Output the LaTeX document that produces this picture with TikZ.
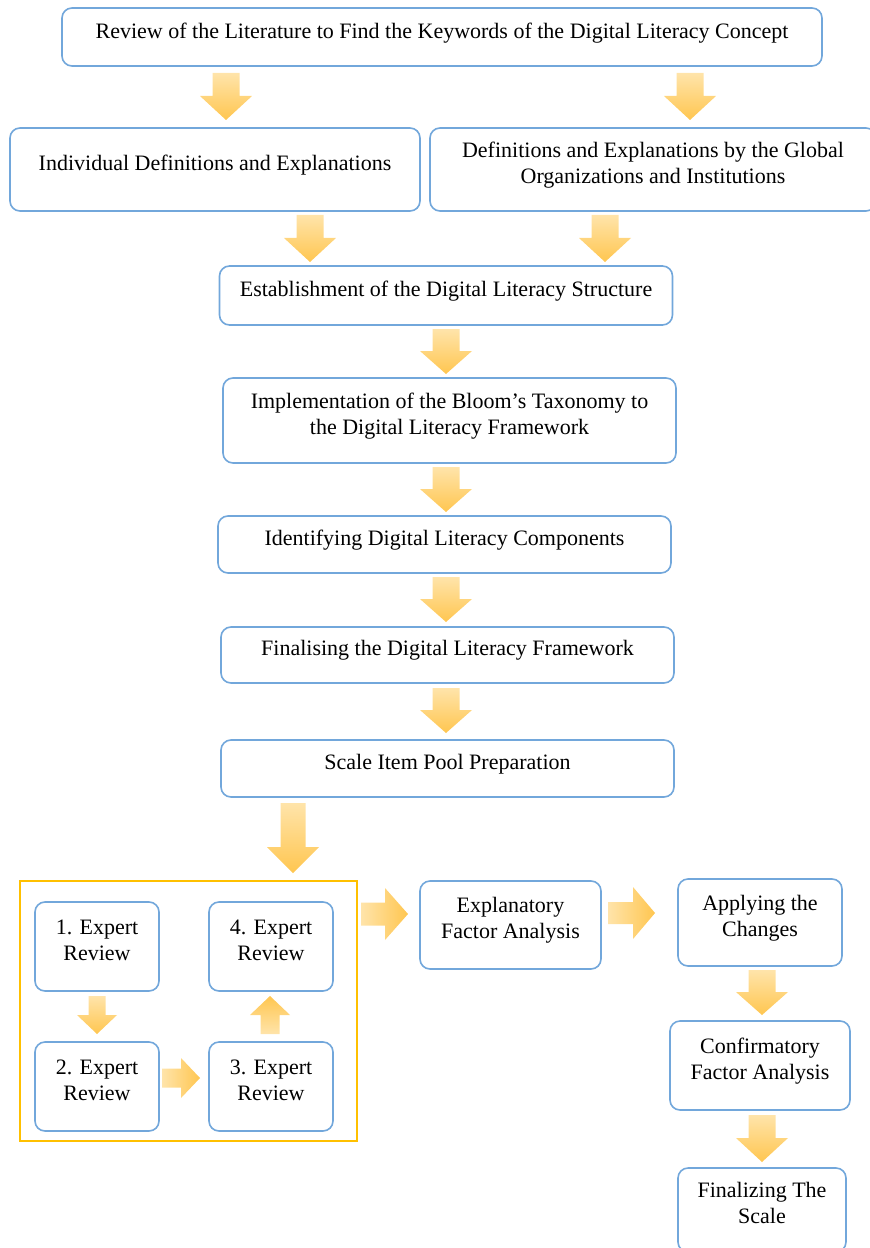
\documentclass[tikz,border=0pt]{standalone}
\usepackage{fontspec}
\setmainfont{Liberation Serif}
\usetikzlibrary{positioning}
\definecolor{BoxBlue}{HTML}{72A7DB}
\definecolor{FrameGold}{HTML}{FFC000}
\definecolor{ArrowLight}{HTML}{FFE4AA}
\definecolor{ArrowDark}{HTML}{FFC650}
\tikzset{
    % Box styles - rounded corners
    stepbox/.style={
        rectangle,
        rounded corners=7.5pt,
        draw=BoxBlue,
        fill=white,
        line width=1.2pt,
        inner sep=2pt,
        text depth=10pt,
        align=center,
        font=\fontsize{16.5}{19.5}\selectfont
    },
    widebox/.style={
        stepbox,
        minimum width=339.75pt,
        minimum height=43pt
    },
    expertbox/.style={
        stepbox,
        minimum width=93pt,
        minimum height=66.75pt
    },
    panelbox/.style={
        rectangle,
        draw=FrameGold,
        line width=1pt
    },
    % Block arrows - drawn along +x, then rotated
    arrowfill/.style={left color=ArrowLight, right color=ArrowDark},
    down/.style={rotate=-90, arrowfill/.style={top color=ArrowLight, bottom color=ArrowDark}},
    up/.style={rotate=90, arrowfill/.style={bottom color=ArrowLight, top color=ArrowDark}},
    pics/blockarrow/.style n args={4}{code={
        \shade[arrowfill]
            (0,-#2) -- ({#1-#4},-#2) -- ({#1-#4},-#3) -- (#1,0)
            -- ({#1-#4},#3) -- ({#1-#4},#2) -- (0,#2) -- cycle;
    }}
}

\begin{document}
\begin{tikzpicture}[x=0.75pt, y=-0.75pt]
    \useasboundingbox (0,0) rectangle (870,1248);

    % literature part
    \node[stepbox, minimum width=570pt, minimum height=43.5pt] (review) at (442,37)
        {Review of the Literature to Find the Keywords of the Digital Literacy Concept};
    \node[stepbox, minimum width=307.5pt, minimum height=62.25pt] (indiv) at (215,169.5)
        {Individual Definitions and Explanations};
    \node[stepbox, minimum width=334.5pt, minimum height=62.25pt] (global) at (653,169.5)
        {Definitions and Explanations by the Global\\Organizations and Institutions};

    \pic[down] (ar1) at (226,73) {blockarrow={47}{13.5}{26}{24}};
    \pic[down] (ar2) at (690,73) {blockarrow={47}{13.5}{26}{24}};
    \pic[down] (ar3) at (310,215) {blockarrow={47}{13.5}{26}{24}};
    \pic[down] (ar4) at (605,215) {blockarrow={47}{13.5}{26}{24}};

    % framework part
    \node[widebox, minimum height=44.25pt] (struct) at (446,295.5)
        {Establishment of the Digital Literacy Structure};
    \node[widebox, minimum height=63.75pt] (bloom) at (449.5,420.5)
        {Implementation of the Bloom’s Taxonomy to\\the Digital Literacy Framework};
    \node[widebox, minimum height=42.75pt] (compo) at (444.5,544.5)
        {Identifying Digital Literacy Components};
    \node[widebox, minimum height=42pt] (frame) at (447.5,655)
        {Finalising the Digital Literacy Framework};
    \node[widebox, minimum height=42.75pt] (pool) at (447.5,768.5)
        {Scale Item Pool Preparation};

    \pic[down] (ar5) at (446,329) {blockarrow={45}{13.5}{26}{23}};
    \pic[down] (ar6) at (446,467) {blockarrow={45}{13.5}{26}{23}};
    \pic[down] (ar7) at (446,577) {blockarrow={45}{13.5}{26}{23}};
    \pic[down] (ar8) at (446,688) {blockarrow={45}{13.5}{26}{23}};
    \pic[down] (ar9) at (293,803) {blockarrow={70}{12.5}{26}{26}};

    % expert review panel
    \node[panelbox, minimum width=252.75pt, minimum height=195pt] (panel) at (188.5,1011) {};
    \node[expertbox] (exp1) at (97,946.5) {1. Expert\\Review};
    \node[expertbox] (exp4) at (271,946.5) {4. Expert\\Review};
    \node[expertbox] (exp2) at (97,1086.5) {2. Expert\\Review};
    \node[expertbox] (exp3) at (271,1086.5) {3. Expert\\Review};

    \pic[down] (ar10) at (97,996) {blockarrow={38}{8.5}{20}{19}};
    \pic (ar11) at (162,1078) {blockarrow={38}{9.5}{20}{19}};
    \pic[up] (ar12) at (270,1034) {blockarrow={38}{9.5}{20}{19}};

    % analysis part
    \node[stepbox, minimum width=135.75pt, minimum height=66pt] (efa) at (510.5,925)
        {Explanatory\\Factor Analysis};
    \node[stepbox, minimum width=123pt, minimum height=65.25pt] (apply) at (760,922.5)
        {Applying the\\Changes};
    \node[stepbox, minimum width=135pt, minimum height=66.75pt] (cfa) at (760,1065.5)
        {Confirmatory\\Factor Analysis};
    \node[stepbox, minimum width=126pt, minimum height=63pt] (scale) at (762,1210)
        {Finalizing The\\Scale};

    \pic (ar13) at (361,914) {blockarrow={47}{11.5}{26}{23}};
    \pic (ar14) at (608,913) {blockarrow={47}{11}{26}{22}};
    \pic[down] (ar15) at (762,970) {blockarrow={45}{13.5}{26}{23}};
    \pic[down] (ar16) at (762,1115) {blockarrow={47}{13.5}{26}{24}};
\end{tikzpicture}
\end{document}
